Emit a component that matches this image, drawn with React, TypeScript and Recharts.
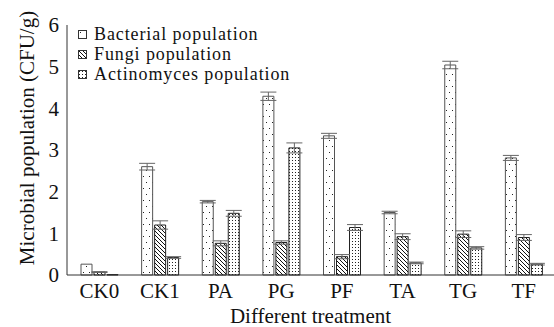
import React from 'react';
import { BarChart, Bar, XAxis, YAxis, Legend, ErrorBar } from 'recharts';

const categories = ['CK0', 'CK1', 'PA', 'PG', 'PF', 'TA', 'TG', 'TF'];
const bacterial = [0.26, 2.6, 1.76, 4.29, 3.34, 1.5, 5.04, 2.81];
const bacterialErr = [0.0, 0.08, 0.03, 0.1, 0.06, 0.03, 0.09, 0.06];
const fungi = [0.07, 1.2, 0.76, 0.78, 0.44, 0.92, 0.98, 0.9];
const fungiErr = [0.01, 0.1, 0.06, 0.04, 0.05, 0.07, 0.08, 0.07];
const actino = [0.01, 0.42, 1.48, 3.05, 1.14, 0.29, 0.65, 0.26];
const actinoErr = [0.0, 0.02, 0.07, 0.12, 0.07, 0.02, 0.03, 0.02];
const yTicks = [0, 1, 2, 3, 4, 5, 6];

const legendItems = [
  { name: 'Bacterial population', fill: 'url(#pat-bact)' },
  { name: 'Fungi population', fill: 'url(#pat-fungi)' },
  { name: 'Actinomyces population', fill: 'url(#pat-actino)' },
];

const data = categories.map((name, i) => ({
  name,
  bacterial: bacterial[i],
  bacterialErr: bacterialErr[i],
  fungi: fungi[i],
  fungiErr: fungiErr[i],
  actino: actino[i],
  actinoErr: actinoErr[i],
}));

const FONT = '"Liberation Serif", "Times New Roman", serif';

// legend rows sit tight in the original, so a slightly smaller font keeps them apart
const renderLegend = () => (
  <div style={{ fontFamily: FONT, fontSize: 18, color: '#111' }}>
    {legendItems.map((it) => (
      <div key={it.name} style={{ display: 'flex', alignItems: 'center', height: 20, lineHeight: '20px' }}>
        <svg width={9} height={9} style={{ marginRight: 7 }}>
          <rect x={0.5} y={0.5} width={8} height={8} fill={it.fill} stroke="#333" strokeWidth={1} />
        </svg>
        <span style={{ whiteSpace: 'nowrap', letterSpacing: 0.9 }}>{it.name}</span>
      </div>
    ))}
  </div>
);

const App: React.FC = () => {
  return (
    <div style={{ position: 'absolute', left: 0, top: 0, width: 554, height: 327, background: '#fff', fontFamily: FONT }}>
      <BarChart
        width={554}
        height={327}
        data={data}
        margin={{ top: 25, right: 0, bottom: 0, left: 0 }}
        barSize={11}
        barGap={2}
      >
        <defs>
          <pattern id="pat-bact" patternUnits="userSpaceOnUse" width={6} height={12}>
            <rect width={6} height={12} fill="#fff" />
            <rect x={2} y={2} width={1} height={1} fill="#222" />
            <rect x={5} y={8} width={1} height={1} fill="#222" />
          </pattern>
          <pattern id="pat-fungi" patternUnits="userSpaceOnUse" width={4} height={4}>
            <rect width={4} height={4} fill="#fff" />
            <path d="M0,0 L4,4 M-1,3 L1,5 M3,-1 L5,1" stroke="#111" strokeWidth={1} />
          </pattern>
          <pattern id="pat-actino" patternUnits="userSpaceOnUse" width={3} height={3}>
            <rect width={3} height={3} fill="#fff" />
            <rect x={1} y={1} width={1} height={1} fill="#222" />
          </pattern>
        </defs>
        <XAxis
          dataKey="name"
          height={52}
          padding={{ left: 2, right: 0 }}
          tickLine={false}
          axisLine={{ stroke: '#333' }}
          tick={{ fill: '#111', fontSize: 21, fontFamily: FONT }}
          label={{ value: 'Different treatment', position: 'insideBottom', offset: 4, fill: '#111', fontSize: 21, fontFamily: FONT }}
        />
        <YAxis
          width={67}
          domain={[0, 6]}
          ticks={yTicks}
          tickLine={false}
          axisLine={{ stroke: '#333' }}
          tick={{ fill: '#111', fontSize: 21, fontFamily: FONT }}
          label={{ value: 'Microbial population (CFU/g)', angle: -90, position: 'center', dx: -7, dy: -12, fill: '#111', fontSize: 21, fontFamily: FONT }}
        />
        <Legend
          layout="horizontal"
          align="center"
          verticalAlign="middle"
          content={renderLegend}
          wrapperStyle={{ left: 78, top: 24, width: 'auto', height: 'auto' }}
        />
        <Bar dataKey="bacterial" name="Bacterial population" fill="url(#pat-bact)" stroke="#555" strokeWidth={1} isAnimationActive={false}>
          <ErrorBar dataKey="bacterialErr" width={8} stroke="#666" strokeWidth={1} />
        </Bar>
        <Bar dataKey="fungi" name="Fungi population" fill="url(#pat-fungi)" stroke="#222" strokeWidth={1} isAnimationActive={false}>
          <ErrorBar dataKey="fungiErr" width={8} stroke="#666" strokeWidth={1} />
        </Bar>
        <Bar dataKey="actino" name="Actinomyces population" fill="url(#pat-actino)" stroke="#222" strokeWidth={1} isAnimationActive={false}>
          <ErrorBar dataKey="actinoErr" width={8} stroke="#666" strokeWidth={1} />
        </Bar>
      </BarChart>
    </div>
  );
};

export default App;
